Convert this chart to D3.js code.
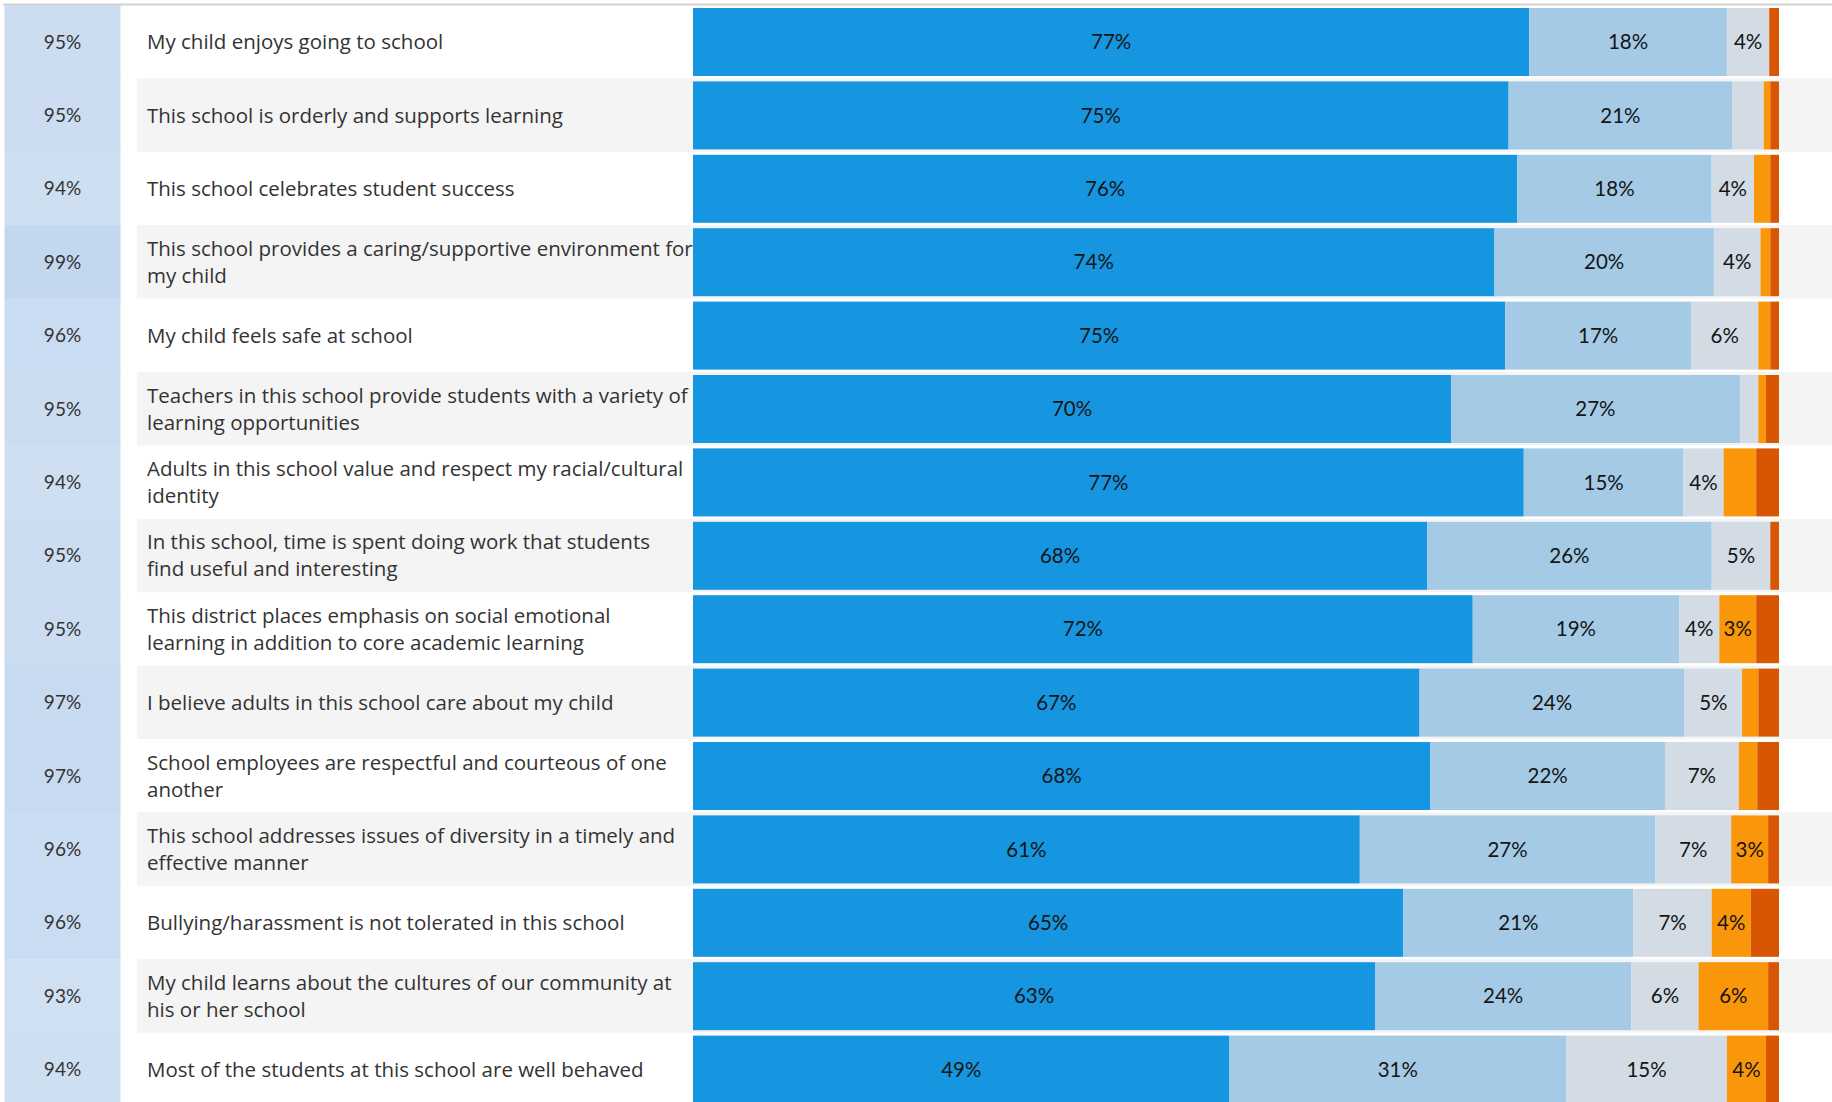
<!DOCTYPE html>
<html>
<head>
<meta charset="utf-8">
<script src="https://cdn.jsdelivr.net/npm/d3@7"></script>
<style>
  html, body { margin: 0; padding: 0; background: #fff; }
  svg { display: block; font-family: Lato, "Open Sans", sans-serif; }
  .stmt { font-family: "Open Sans", Lato, sans-serif; }
</style>
</head>
<body>
<div id="chart"></div>
<script>
// Survey statements (line breaks mark where long statements wrap)
const statements = [
  "My child enjoys going to school",
  "This school is orderly and supports learning",
  "This school celebrates student success",
  "This school provides a caring/supportive environment for\nmy child",
  "My child feels safe at school",
  "Teachers in this school provide students with a variety of\nlearning opportunities",
  "Adults in this school value and respect my racial/cultural\nidentity",
  "In this school, time is spent doing work that students\nfind useful and interesting",
  "This district places emphasis on social emotional\nlearning in addition to core academic learning",
  "I believe adults in this school care about my child",
  "School employees are respectful and courteous of one\nanother",
  "This school addresses issues of diversity in a timely and\neffective manner",
  "Bullying/harassment is not tolerated in this school",
  "My child learns about the cultures of our community at\nhis or her school",
  "Most of the students at this school are well behaved"
];

// Overall positive rate shown in the left column
const positiveRate = [95, 95, 94, 99, 96, 95, 94, 95, 95, 97, 97, 96, 96, 93, 94];

// Response shares (%) per statement
const responseLevels = ["Strongly agree", "Agree", "Neutral", "Disagree", "Strongly disagree"];
const stronglyAgree    = [77.0, 75.1, 75.9, 73.8, 74.8, 69.8, 76.5, 67.6, 71.8, 66.9, 67.9, 61.4, 65.4, 62.8, 49.4];
const agree            = [18.2, 20.6, 17.9, 20.2, 17.1, 26.6, 14.7, 26.2, 19.0, 24.4, 21.6, 27.2, 21.2, 23.6, 31.0];
const neutral          = [ 3.9,  2.9,  3.9,  4.3,  6.2,  1.7,  3.7,  5.4,  3.7,  5.3,  6.8,  7.0,  7.2,  6.2, 14.8];
const disagree         = [ 0.0,  0.6,  1.5,  0.9,  1.1,  0.7,  3.0,  0.0,  3.4,  1.5,  1.7,  3.4,  3.6,  6.4,  3.6];
const stronglyDisagree = [ 0.9,  0.8,  0.8,  0.8,  0.8,  1.2,  2.1,  0.8,  2.1,  1.9,  2.0,  1.0,  2.6,  1.0,  1.2];

const seriesValues = [stronglyAgree, agree, neutral, disagree, stronglyDisagree];
const levelColors = ["#1696e0", "#a4cae6", "#d3dbe4", "#fa9609", "#d85603"];

const W = 1832, H = 1102;
const svg = d3.select("#chart").append("svg")
  .attr("width", W).attr("height", H);

// Rows: one band per statement
const rowH = 73.4;
const topY = 5;
const y = d3.scaleBand()
  .domain(d3.range(statements.length))
  .range([topY, topY + rowH * statements.length])
  .padding(0);

const x = d3.scaleLinear().domain([0, 100]).range([693, 1779]);

const rateColor = d3.scaleLinear()
  .domain([93, 99])
  .range(["#d0e0f3", "#c3d7ef"]);

// Alternating row shading behind labels and bars
svg.append("g").selectAll("rect")
  .data(d3.range(statements.length).filter(i => i % 2 === 1))
  .join("rect")
  .attr("x", 137).attr("width", W - 137)
  .attr("y", i => y(i)).attr("height", y.bandwidth())
  .attr("fill", "#f4f4f4");

// Top rule
svg.append("line")
  .attr("x1", 3).attr("x2", W)
  .attr("y1", topY - 0.5).attr("y2", topY - 0.5)
  .attr("stroke", "#d2d2d2").attr("stroke-width", 2);

// Left column: positive rate cells
const rateG = svg.append("g");
rateG.selectAll("rect")
  .data(positiveRate)
  .join("rect")
  .attr("x", 4.5).attr("width", 116)
  .attr("y", (d, i) => y(i)).attr("height", y.bandwidth() + 0.5)
  .attr("fill", d => rateColor(d));
rateG.selectAll("text")
  .data(positiveRate)
  .join("text")
  .attr("x", 62.5)
  .attr("y", (d, i) => y(i) + 3 + 34)
  .attr("dy", "0.35em")
  .attr("text-anchor", "middle")
  .attr("font-size", 19)
  .attr("fill", "#333")
  .text(d => d + "%");

// Statement labels
const labelG = svg.append("g").attr("class", "stmt");
statements.forEach((s, i) => {
  const lines = s.split("\n");
  const cy = y(i) + 3 + 34;
  const lh = 27;
  const t = labelG.append("text")
    .attr("x", 147)
    .attr("font-size", 20.5)
    .attr("fill", "#333");
  lines.forEach((ln, k) => {
    t.append("tspan")
      .attr("x", 147)
      .attr("y", cy + (k - (lines.length - 1) / 2) * lh)
      .attr("dy", "0.35em")
      .text(ln);
  });
});

// Stacked bars
const rows = statements.map((s, i) => {
  let acc = 0;
  return seriesValues.map((vals, k) => {
    const seg = { row: i, level: k, x0: acc, x1: acc + vals[i], v: vals[i] };
    acc += vals[i];
    return seg;
  });
});
const segs = rows.flat();

const barG = svg.append("g");
barG.selectAll("rect")
  .data(segs.filter(d => d.v > 0))
  .join("rect")
  .attr("x", d => x(d.x0))
  .attr("width", d => x(d.x1) - x(d.x0))
  .attr("y", d => y(d.row) + 3)
  .attr("height", 68)
  .attr("fill", d => levelColors[d.level]);

// Value labels, shown where the segment is wide enough
barG.selectAll("text")
  .data(segs.filter(d => x(d.x1) - x(d.x0) >= 34))
  .join("text")
  .attr("x", d => (x(d.x0) + x(d.x1)) / 2)
  .attr("y", d => y(d.row) + 3 + 34)
  .attr("dy", "0.35em")
  .attr("text-anchor", "middle")
  .attr("font-size", 20.5)
  .attr("fill", "#151515")
  .text(d => Math.round(d.v) + "%");
</script>
</body>
</html>
